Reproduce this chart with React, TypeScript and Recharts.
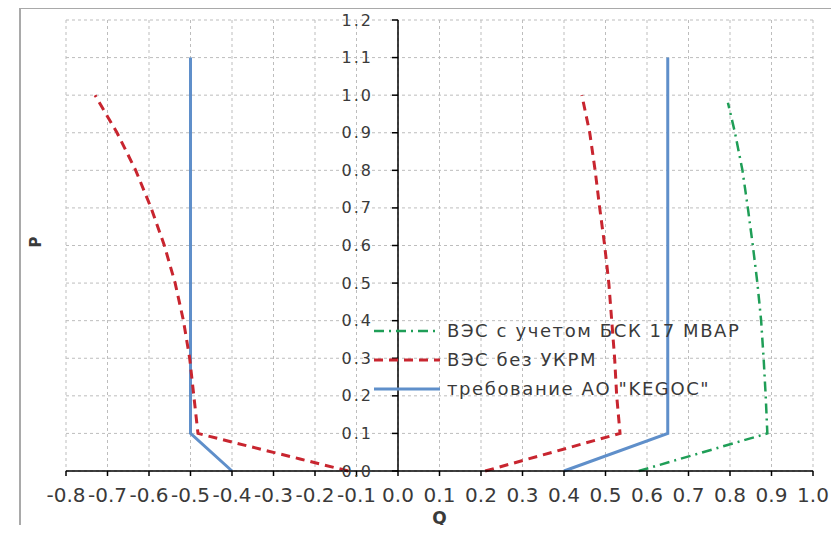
import React from 'react';
import { LineChart, Line, XAxis, YAxis, CartesianGrid, ReferenceLine, Legend } from 'recharts';

// Q axis ticks and P axis ticks
const qTicks = [-0.8, -0.7, -0.6, -0.5, -0.4, -0.3, -0.2, -0.1, 0, 0.1, 0.2, 0.3, 0.4, 0.5, 0.6, 0.7, 0.8, 0.9, 1.0];
const pTicks = [0, 0.1, 0.2, 0.3, 0.4, 0.5, 0.6, 0.7, 0.8, 0.9, 1.0, 1.1, 1.2];

// требование АО "KEGOC"
const kegocLeftQ = [-0.4, -0.5, -0.5];
const kegocLeftP = [0, 0.1, 1.1];
const kegocRightQ = [0.4, 0.65, 0.65];
const kegocRightP = [0, 0.1, 1.1];

// ВЭС без УКРМ
const noCompLeftQ = [-0.12, -0.236, -0.4, -0.482, -0.492, -0.502, -0.517, -0.537, -0.563, -0.595, -0.632, -0.677, -0.73];
const noCompLeftP = [0, 0.032, 0.077, 0.1, 0.2, 0.3, 0.4, 0.5, 0.6, 0.7, 0.8, 0.9, 1.0];
const noCompRightQ = [0.21, 0.535, 0.527, 0.522, 0.515, 0.508, 0.498, 0.486, 0.475, 0.462, 0.443];
const noCompRightP = [0, 0.1, 0.2, 0.3, 0.4, 0.5, 0.6, 0.7, 0.8, 0.9, 1.0];

// ВЭС с учетом БСК 17 МВАР
const bskQ = [0.58, 0.89, 0.886, 0.881, 0.875, 0.866, 0.855, 0.843, 0.83, 0.812, 0.795];
const bskP = [0, 0.1, 0.2, 0.3, 0.4, 0.5, 0.6, 0.7, 0.8, 0.9, 0.98];

const zip = (q: number[], p: number[]) => q.map((v, i) => ({ q: v, p: p[i] }));

const W = 839;
const H = 533;
const margin = { top: 20, right: 26, bottom: 22, left: 65 };
const yAxisWidth = 1;
const plotLeft = margin.left + yAxisWidth;
const plotWidth = W - margin.right - plotLeft;
const qMin = -0.8;
const qMax = 1.0;
const zeroX = plotLeft + (plotWidth * (0 - qMin)) / (qMax - qMin);

const FONT = '"DejaVu Sans", sans-serif';
const TEXT = '#3a3a3a';

const series = {
  bsk: { name: 'ВЭС с учетом БСК 17 МВАР', color: '#1f9e57', width: 2.5, dash: '10 5 2 5' },
  noComp: { name: 'ВЭС без УКРМ', color: '#c8252f', width: 3, dash: '9 6' },
  kegoc: { name: 'требование АО "KEGOC"', color: '#5f8fca', width: 3, dash: undefined as string | undefined },
};

const YTick = (props: any) => {
  const { y, payload } = props;
  return (
    <g>
      <line x1={zeroX - 6} x2={zeroX} y1={y} y2={y} stroke="#000" strokeWidth={1.5} />
      <text
        x={zeroX - 25}
        y={y}
        textAnchor="end"
        dominantBaseline="central"
        fill={TEXT}
        fontFamily={FONT}
        fontSize={16}
        letterSpacing={2}
      >
        {payload.value.toFixed(1)}
      </text>
    </g>
  );
};

const LegendBox = () => {
  const rows = [series.bsk, series.noComp, series.kegoc];
  return (
    <div>
      {rows.map((s) => (
        <div key={s.name} style={{ display: 'flex', alignItems: 'center', height: 29 }}>
          <svg width={70} height={10}>
            <line x1={2} x2={68} y1={5} y2={5} stroke={s.color} strokeWidth={s.width} strokeDasharray={s.dash} />
          </svg>
          <span
            style={{
              fontFamily: FONT,
              fontSize: 18,
              letterSpacing: 1.6,
              color: TEXT,
              marginLeft: 5,
              whiteSpace: 'nowrap',
            }}
          >
            {s.name}
          </span>
        </div>
      ))}
    </div>
  );
};

export default function App() {
  return (
    <div style={{ position: 'relative', width: W, height: H, margin: -8, background: '#fff' }}>
      <div
        style={{
          position: 'absolute',
          left: 19,
          top: 7,
          width: 814,
          height: 522,
          border: '2px solid #a9a9a9',
        }}
      />
      <div
        style={{
          position: 'absolute',
          left: 30,
          top: 233,
          fontFamily: FONT,
          fontWeight: 'bold',
          fontSize: 15,
          color: TEXT,
          transform: 'rotate(-90deg)',
        }}
      >
        P
      </div>
      <LineChart width={W} height={H} margin={margin} style={{ position: 'relative', zIndex: 1 }}>
        <CartesianGrid stroke="#bdbdbd" strokeDasharray="3 3" />
        <XAxis
          type="number"
          dataKey="q"
          domain={[qMin, qMax]}
          ticks={qTicks}
          interval={0}
          allowDataOverflow
          height={40}
          tickSize={5}
          tickMargin={12}
          tickFormatter={(v: number) => v.toFixed(1)}
          axisLine={{ stroke: '#000', strokeWidth: 1.5 }}
          tickLine={{ stroke: '#000', strokeWidth: 1.5 }}
          tick={{ fill: TEXT, fontFamily: FONT, fontSize: 20 }}
          label={{ value: 'Q', position: 'bottom', offset: 1, fill: TEXT, fontFamily: FONT, fontSize: 17, fontWeight: 'bold' }}
        />
        <YAxis
          type="number"
          dataKey="p"
          domain={[0, 1.2]}
          ticks={pTicks}
          interval={0}
          width={yAxisWidth}
          axisLine={false}
          tickLine={false}
          tick={<YTick />}
        />
        <ReferenceLine x={0} stroke="#000" strokeWidth={1.5} />
        <Line data={zip(kegocLeftQ, kegocLeftP)} dataKey="p" name={series.kegoc.name} stroke={series.kegoc.color} strokeWidth={series.kegoc.width} dot={false} isAnimationActive={false} />
        <Line data={zip(kegocRightQ, kegocRightP)} dataKey="p" name={series.kegoc.name} stroke={series.kegoc.color} strokeWidth={series.kegoc.width} dot={false} isAnimationActive={false} />
        <Line data={zip(noCompLeftQ, noCompLeftP)} dataKey="p" name={series.noComp.name} stroke={series.noComp.color} strokeWidth={series.noComp.width} strokeDasharray={series.noComp.dash} dot={false} isAnimationActive={false} />
        <Line data={zip(noCompRightQ, noCompRightP)} dataKey="p" name={series.noComp.name} stroke={series.noComp.color} strokeWidth={series.noComp.width} strokeDasharray={series.noComp.dash} dot={false} isAnimationActive={false} />
        <Line data={zip(bskQ, bskP)} dataKey="p" name={series.bsk.name} stroke={series.bsk.color} strokeWidth={series.bsk.width} strokeDasharray={series.bsk.dash} dot={false} isAnimationActive={false} />
        <Legend
          layout="vertical"
          align="center"
          verticalAlign="middle"
          content={<LegendBox />}
          wrapperStyle={{ left: 372, top: 316, width: 460 }}
        />
      </LineChart>
    </div>
  );
}
